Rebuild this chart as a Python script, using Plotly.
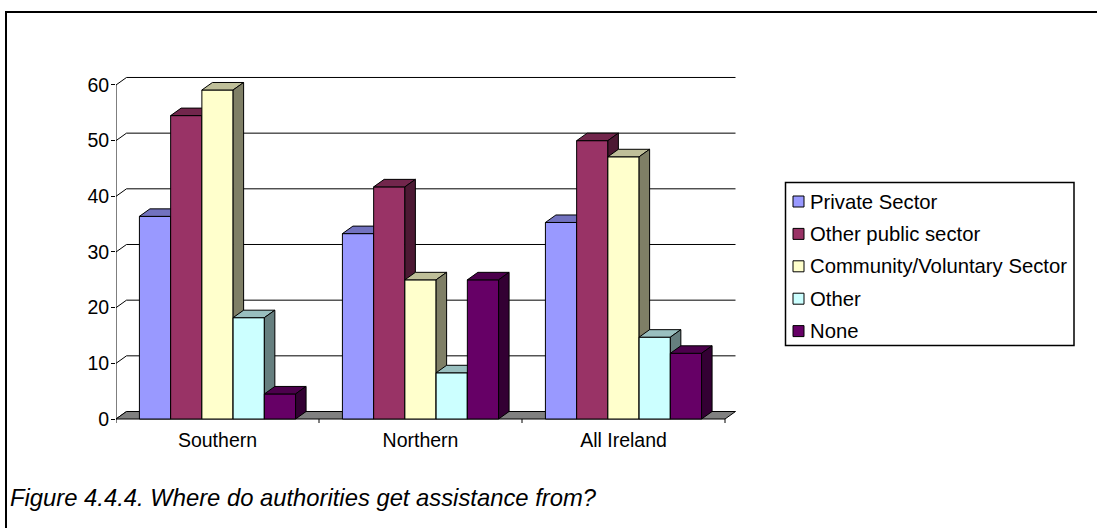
import plotly.graph_objects as go

# ---- data ----
categories = ["Southern", "Northern", "All Ireland"]
series_names = ["Private Sector", "Other public sector",
                "Community/Voluntary Sector", "Other", "None"]
private_sector = [36.4, 33.3, 35.3]
other_public = [54.5, 41.7, 50.0]
community_voluntary = [59.1, 25.0, 47.1]
other = [18.2, 8.3, 14.7]
none_sector = [4.5, 25.0, 11.8]
y_ticks = [0, 10, 20, 30, 40, 50, 60]
caption = "Figure 4.4.4. Where do authorities get assistance from?"

series_values = [private_sector, other_public, community_voluntary, other, none_sector]
front_colors = ["#9999FF", "#993366", "#FFFFCC", "#CCFFFF", "#660066"]


def shade(hex_color, k):
    h = hex_color.lstrip("#")
    r, g, b = (int(h[i:i + 2], 16) for i in (0, 2, 4))
    return "#{:02X}{:02X}{:02X}".format(int(r * k), int(g * k), int(b * k))


top_colors = [shade(c, 0.75) for c in front_colors]
side_colors = [shade(c, 0.5) for c in front_colors]

# ---- page geometry ----
W, H = 1097, 528
L, R, T, B = 116, 357, 70, 102
plot_w, plot_h = W - L - R, H - T - B
cat_px = 203.0          # pixels per category
unit_px = 5.567         # pixels per value unit
base_px = 419.0         # pixel row of value 0
x_range = [-0.5, -0.5 + plot_w / cat_px]
y_range = [-(H - B - base_px) / unit_px, (base_px - T) / unit_px]

DX = 10.5 / cat_px      # depth offset (x units)
DY = 7.5 / unit_px      # depth offset (value units)
bar_w = 1 / 6.5
n_series = len(series_names)
x_lo, x_hi = -0.5, len(categories) - 0.5
font = "Liberation Sans, Arial, sans-serif"
label_size = 19.5


def px_x(p):
    return (p - L) / plot_w


def px_y(p):
    return 1 - (p - T) / plot_h


fig = go.Figure()

# back wall gridlines and side-wall diagonals
gx, gy = [], []
for v in y_ticks:
    if v > 0:
        gx += [x_lo + DX, x_hi + DX, None]
        gy += [v + DY, v + DY, None]
    gx += [x_lo, x_lo + DX, None]
    gy += [v, v + DY, None]
fig.add_trace(go.Scatter(x=gx, y=gy, mode="lines",
                         line=dict(color="black", width=1),
                         hoverinfo="skip", showlegend=False))

# floor
fig.add_trace(go.Scatter(
    x=[x_lo, x_hi, x_hi + DX, x_lo + DX, x_lo],
    y=[0, 0, DY, DY, 0], mode="lines", fill="toself",
    fillcolor="#808080", line=dict(color="black", width=1),
    hoverinfo="skip", showlegend=False))

# value axis line and category boundary ticks
ax, ay = [x_lo, x_lo, None], [0, max(y_ticks), None]
for k in range(len(categories) + 1):
    ax += [x_lo + k, x_lo + k, None]
    ay += [0, -4 / unit_px, None]
fig.add_trace(go.Scatter(x=ax, y=ay, mode="lines",
                         line=dict(color="black", width=1),
                         hoverinfo="skip", showlegend=False))

# 3-D columns: front, top and side faces, painted left to right
for i, (name, vals) in enumerate(zip(series_names, series_values)):
    fx, fy, tx, ty, sx, sy = [], [], [], [], [], []
    for c, v in enumerate(vals):
        xl = c + (i - (n_series - 1) / 2) * bar_w - bar_w / 2
        xr = xl + bar_w
        fx += [xl, xr, xr, xl, xl, None]
        fy += [0, 0, v, v, 0, None]
        tx += [xl, xr, xr + DX, xl + DX, xl, None]
        ty += [v, v, v + DY, v + DY, v, None]
        sx += [xr, xr + DX, xr + DX, xr, xr, None]
        sy += [0, DY, v + DY, v, 0, None]
    for xs, ys, col in ((fx, fy, front_colors[i]),
                        (tx, ty, top_colors[i]),
                        (sx, sy, side_colors[i])):
        fig.add_trace(go.Scatter(x=xs, y=ys, mode="lines", fill="toself",
                                 fillcolor=col,
                                 line=dict(color="black", width=1),
                                 name=name, hoverinfo="skip",
                                 showlegend=False))

shapes, annotations = [], []

# legend
shapes.append(dict(type="rect", xref="paper", yref="paper",
                   x0=px_x(785.5), x1=px_x(1074), y0=px_y(182.5), y1=px_y(345.5),
                   line=dict(color="black", width=1.5), fillcolor="white"))
for i, name in enumerate(series_names):
    cy = 201.5 + i * 32.4
    shapes.append(dict(type="rect", xref="paper", yref="paper",
                       x0=px_x(793), x1=px_x(804), y0=px_y(cy - 5.5), y1=px_y(cy + 5.5),
                       line=dict(color="black", width=1), fillcolor=front_colors[i]))
    annotations.append(dict(xref="paper", yref="paper", x=px_x(808), y=px_y(cy),
                            xanchor="left", yanchor="middle", showarrow=False,
                            text=name, font=dict(family=font, size=20.3, color="black")))

# frame
shapes.append(dict(type="path", xref="paper", yref="paper",
                   path="M {} {} L {} {} L {} {}".format(
                       px_x(6), px_y(H + 2), px_x(6), px_y(12), px_x(W + 2), px_y(12)),
                   line=dict(color="black", width=2)))

# caption
annotations.append(dict(xref="paper", yref="paper", x=px_x(8), y=px_y(497),
                        xanchor="left", yanchor="middle", showarrow=False,
                        text="<i>" + caption + "</i>",
                        font=dict(family=font, size=23.8, color="black")))

fig.update_layout(
    width=W, height=H, autosize=False,
    margin=dict(l=L, r=R, t=T, b=B, pad=0),
    paper_bgcolor="white", plot_bgcolor="white",
    showlegend=False, shapes=shapes, annotations=annotations,
    font=dict(family=font, size=label_size, color="black"),
    xaxis=dict(range=x_range, showgrid=False, zeroline=False, showline=False,
               tickmode="array", tickvals=list(range(len(categories))),
               ticktext=categories, ticks="", ticklabelstandoff=0,
               automargin=False, fixedrange=True),
    yaxis=dict(range=y_range, showgrid=False, zeroline=False, showline=False,
               tickmode="array", tickvals=y_ticks, ticks="outside", ticklen=4,
               tickcolor="black", tickwidth=1, ticklabelstandoff=-2,
               automargin=False, fixedrange=True),
)

fig.write_html("out.html")
